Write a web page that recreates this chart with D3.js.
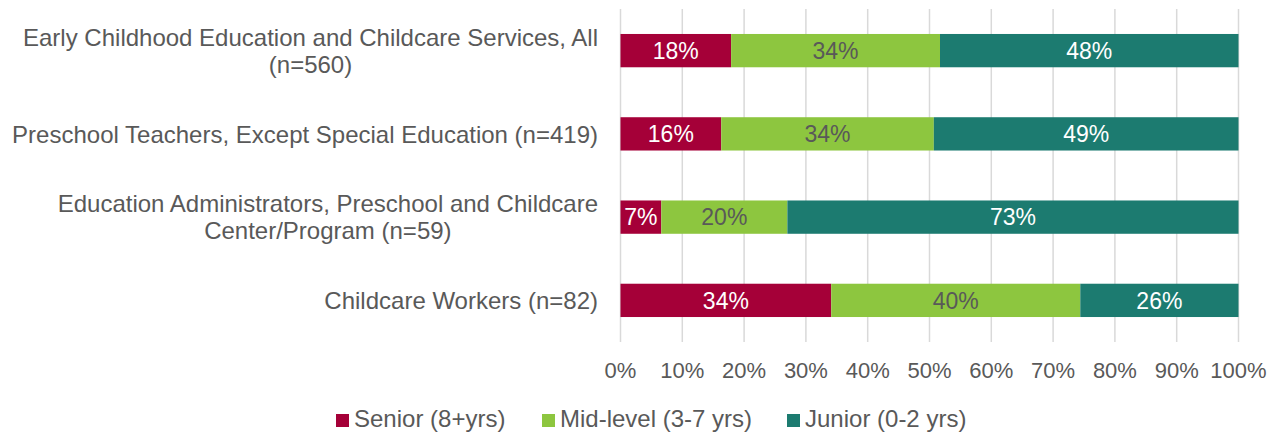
<!DOCTYPE html>
<html>
<head>
<meta charset="utf-8">
<script src="https://cdn.jsdelivr.net/npm/d3@7"></script>
<style>
  body { margin: 0; background: #fff; }
  svg text { font-family: "Liberation Sans", Arial, sans-serif; }
</style>
</head>
<body>
<svg width="1278" height="433"></svg>
<script>
// chart data
var categories = [
  ['Early Childhood Education and Childcare Services, All', '(n=560)'],
  ['Preschool Teachers, Except Special Education (n=419)'],
  ['Education Administrators, Preschool and Childcare', 'Center/Program (n=59)'],
  ['Childcare Workers (n=82)']
];
var seriesNames = ['Senior (8+yrs)', 'Mid-level (3-7 yrs)', 'Junior (0-2 yrs)'];
var senior = [17.9, 16.3, 6.6, 34.1];
var midLevel = [33.8, 34.4, 20.4, 40.3];
var junior = [48.3, 49.3, 73.0, 25.6];
var tickValues = [0, 10, 20, 30, 40, 50, 60, 70, 80, 90, 100];

var colors = ['#a50038', '#8dc63f', '#1c7b70'];
var labelColors = ['#fff', '#595959', '#fff'];
var textGrey = '#595959';

var svg = d3.select('svg');

var x = d3.scaleLinear().domain([0, 100]).range([620.5, 1238.5]);
var y = d3.scaleBand().domain(d3.range(categories.length)).range([9, 342])
  .paddingInner(0.6).paddingOuter(0.3);

// gridlines
svg.append('g')
  .selectAll('line')
  .data(tickValues)
  .enter()
  .append('line')
  .attr('x1', function(d) { return x(d); })
  .attr('x2', function(d) { return x(d); })
  .attr('y1', 9)
  .attr('y2', 342)
  .attr('stroke', '#d9d9d9')
  .attr('stroke-width', 1.5);

// stack the series
var rows = categories.map(function(c, i) {
  return { s0: senior[i], s1: midLevel[i], s2: junior[i] };
});
var stack = d3.stack().keys(['s0', 's1', 's2']);
var layers = stack(rows);

var layer = svg.append('g')
  .selectAll('g')
  .data(layers)
  .enter()
  .append('g');

layer.selectAll('rect')
  .data(function(d) { return d; })
  .enter()
  .append('rect')
  .attr('x', function(d) { return x(d[0]); })
  .attr('width', function(d) { return x(d[1]) - x(d[0]); })
  .attr('y', function(d, i) { return y(i); })
  .attr('height', y.bandwidth())
  .attr('fill', function() { return colors[d3.select(this.parentNode).datum().index]; });

layer.selectAll('text')
  .data(function(d) { return d; })
  .enter()
  .append('text')
  .attr('x', function(d) { return (x(d[0]) + x(d[1])) / 2; })
  .attr('y', function(d, i) { return y(i) + y.bandwidth() / 2; })
  .attr('dy', '0.36em')
  .attr('text-anchor', 'middle')
  .attr('font-size', 23)
  .attr('fill', function() { return labelColors[d3.select(this.parentNode).datum().index]; })
  .text(function(d) { return Math.round(d[1] - d[0]) + '%'; });

// category labels, wrapped lines centred on the widest line
var lineH = 27;
var catLabels = svg.append('g')
  .selectAll('g')
  .data(categories)
  .enter()
  .append('g');

catLabels.each(function(lines, i) {
  var g = d3.select(this);
  var cy = y(i) + y.bandwidth() / 2 - (lines.length - 1) * lineH / 2;
  var texts = g.selectAll('text')
    .data(lines)
    .enter()
    .append('text')
    .attr('y', function(d, j) { return cy + j * lineH; })
    .attr('dy', '0.36em')
    .attr('font-size', 24)
    .attr('fill', textGrey)
    .text(function(d) { return d; });
  var widest = d3.max(texts.nodes(), function(n) { return n.getComputedTextLength(); });
  texts.attr('text-anchor', 'middle').attr('x', 598 - widest / 2);
});

// x axis labels
svg.append('g')
  .selectAll('text')
  .data(tickValues)
  .enter()
  .append('text')
  .attr('x', function(d) { return x(d); })
  .attr('y', 370)
  .attr('dy', '0.36em')
  .attr('text-anchor', 'middle')
  .attr('font-size', 22)
  .attr('fill', textGrey)
  .text(function(d) { return d + '%'; });

// legend
var legendX = [336, 542, 787];
var legend = svg.append('g')
  .selectAll('g')
  .data(seriesNames)
  .enter()
  .append('g')
  .attr('transform', function(d, i) { return 'translate(' + legendX[i] + ',419)'; });

legend.append('rect')
  .attr('x', 0)
  .attr('y', -5)
  .attr('width', 13)
  .attr('height', 13)
  .attr('fill', function(d, i) { return colors[i]; });

legend.append('text')
  .attr('x', 18)
  .attr('dy', '0.34em')
  .attr('font-size', 24)
  .attr('fill', textGrey)
  .text(function(d) { return d; });
</script>
</body>
</html>
